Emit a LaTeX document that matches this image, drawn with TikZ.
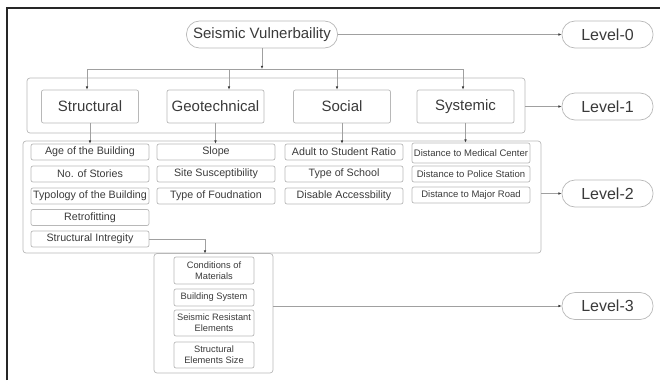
\documentclass[tikz,border=0pt]{standalone}
\usepackage{fontspec}
\setmainfont{Liberation Sans}
\usetikzlibrary{arrows.meta}
\definecolor{txt}{HTML}{3A3A3A}
\definecolor{edge}{HTML}{B8B8B8}
\definecolor{conn}{HTML}{A0A0A0}
\begin{document}
\begin{tikzpicture}[x=1pt,y=-1pt,
  box/.style={draw=edge, line width=0.7pt, rounded corners=2pt, text=txt, inner sep=0pt, align=center},
  lvl/.style={box, rounded corners=13pt, minimum width=91pt, minimum height=27pt, font=\fontsize{16}{18}\selectfont},
  cont/.style={draw=edge, line width=0.7pt, rounded corners=3pt, inner sep=0pt},
  top/.style={box, minimum width=97pt, minimum height=33pt, font=\fontsize{15}{17}\selectfont},
  item/.style={box, minimum width=118pt, minimum height=16pt, font=\fontsize{10.7}{12}\selectfont},
  sitem/.style={item, font=\fontsize{9.5}{11}\selectfont},
  sub/.style={box, minimum width=80pt, font=\fontsize{9.3}{11}\selectfont},
  line/.style={draw=conn, line width=0.6pt},
  conn/.style={line, -{Latex[length=3.2pt,width=2.6pt,color=txt]}}
]
\useasboundingbox (0,0) rectangle (660,380);
\draw[line width=1.6pt, black!85] (7,380) -- (7,8) -- (660,8);

% level nodes
\node[lvl, minimum width=151pt, font=\fontsize{15}{17}\selectfont] (sv) at (262,34.5) {Seismic Vulnerbaility};
\node[lvl] (l0) at (607.5,34.5) {Level-0};
\node[lvl] (l1) at (607.5,106.5) {Level-1};
\node[lvl] (l2) at (607.5,193.5) {Level-2};
\node[lvl] (l3) at (607.5,306) {Level-3};

% containers
\node[cont, minimum width=498pt, minimum height=55pt] (c1) at (276,105.5) {};
\node[cont, minimum width=518pt, minimum height=112pt] (c2) at (282,197) {};
\node[cont, minimum width=119pt, minimum height=119.5pt] (c3) at (213.5,313.25) {};

% level-1 boxes
\node[top] (st) at (90,106.5) {Structural};
\node[top] (ge) at (215.5,106.5) {Geotechnical};
\node[top] (so) at (342,106.5) {Social};
\node[top] (sy) at (465.5,106.5) {Systemic};

% level-2 items
\node[item] (a1) at (90,152) {Age of the Building};
\node[item] (a2) at (90,174) {No. of Stories};
\node[item] (a3) at (90,196) {Typology of the Building};
\node[item] (a4) at (90,217.5) {Retrofitting};
\node[item] (a5) at (90,239) {Structural Intregity};

\node[item] (b1) at (216,152) {Slope};
\node[item] (b2) at (216,174) {Site Susceptibility};
\node[item] (b3) at (216,196) {Type of Foudnation};

\node[item] (s1) at (344,152) {Adult to Student Ratio};
\node[item] (s2) at (344,174) {Type of School};
\node[item] (s3) at (344,196) {Disable Accessbility};

\node[sitem, minimum height=20pt] (d1) at (471,153) {Distance to Medical Center};
\node[sitem] (d2) at (471,174) {Distance to Police Station};
\node[sitem] (d3) at (471,195) {Distance to Major Road};

% level-3 items
\node[sub, minimum height=27pt] (e1) at (214,270.5) {Conditions of\\Materials};
\node[sub, minimum height=17pt] (e2) at (214,297.5) {Building System};
\node[sub, minimum height=26pt] (e3) at (214,323) {Seismic Resistant\\Elements};
\node[sub, minimum height=26pt] (e4) at (214,355) {Structural\\Elements Size};

% connectors
\coordinate (j1) at (87,69);
\coordinate (j2) at (229,69);
\coordinate (j3) at (337,69);
\coordinate (j4) at (463,69);
\coordinate (k) at (205,253.5);

\draw[conn] (sv.east) -- (l0.west);
\draw[conn] (sv.south) -- (sv.south |- j1);
\draw[line] (j1) -- (j4);
\draw[conn] (j1) -- (j1 |- st.north);
\draw[conn] (j2) -- (j2 |- ge.north);
\draw[conn] (j3) -- (j3 |- so.north);
\draw[conn] (j4) -- (j4 |- sy.north);

\draw[conn] (st.south) -- (st.south |- a1.north);
\draw[conn] (ge.south) -- (ge.south |- b1.north);
\draw[conn] (so.south) -- (so.south |- s1.north);
\draw[conn] (sy.south) -- (sy.south |- d1.north);

\draw[conn] (c1.east |- l1) -- (l1.west);
\draw[conn] (c2.east |- l2) -- (l2.west);
\draw[conn] (c3.east |- l3) -- (l3.west);

\draw[conn] (a5.east) -| (k);
\end{tikzpicture}
\end{document}
